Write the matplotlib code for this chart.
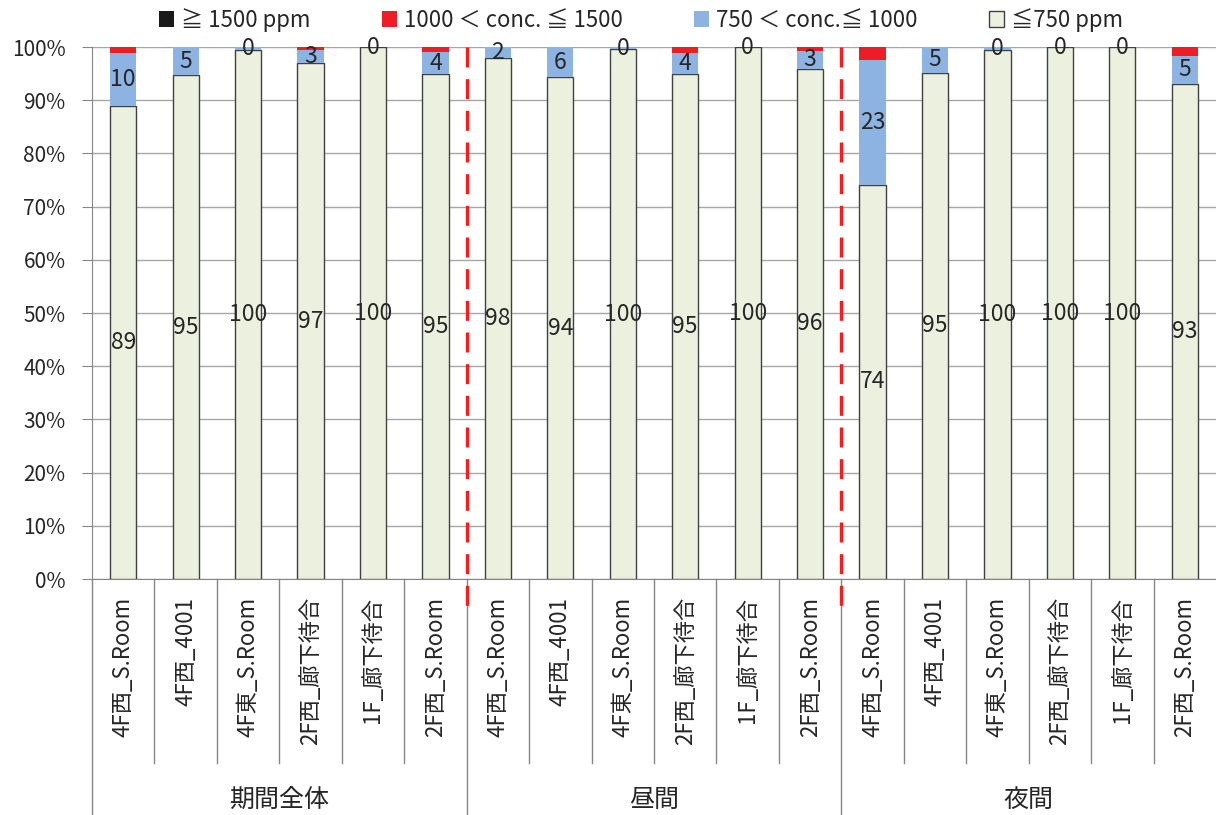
import matplotlib
matplotlib.use("Agg")
import matplotlib.pyplot as plt
import numpy as np

plt.rcParams['font.family'] = ['Noto Sans CJK JP', 'DejaVu Sans']

# categories
rooms = ['4F西_S.Room', '4F西_4001', '4F東_S.Room', '2F西_廊下待合', '1F_廊下待合', '2F西_S.Room']
groups = ['期間全体', '昼間', '夜間']
labels = rooms * 3

# share of time (%) per concentration band
over1500 = [0.0] * 18
c1000_1500 = [1.2, 0.0, 0.0, 0.5, 0.0, 1.0,
              0.0, 0.0, 0.0, 1.2, 0.0, 0.7,
              2.5, 0.0, 0.0, 0.0, 0.0, 1.6]
c750_1000 = [9.8, 5.3, 0.5, 2.6, 0.0, 4.1,
             2.1, 5.7, 0.4, 3.8, 0.0, 3.4,
             23.4, 4.8, 0.5, 0.0, 0.0, 5.4]
under750 = [89.0, 94.7, 99.5, 96.9, 100.0, 94.9,
            97.9, 94.3, 99.6, 95.0, 100.0, 95.9,
            74.1, 95.2, 99.5, 100.0, 100.0, 93.0]

legend_labels = ['≧ 1500 ppm', '1000 ＜ conc. ≦ 1500', '750 ＜ conc.≦ 1000', '≦750 ppm']

fig = plt.figure(figsize=(12.16, 8.15), dpi=100)
ax = fig.add_axes([92 / 1216, 1 - 579 / 815, 1 - 92 / 1216, 532 / 815])

x = np.arange(len(labels))
w = 0.42
g = np.array(under750)
b = np.array(c750_1000)
r = np.array(c1000_1500)
k = np.array(over1500)

bg = ax.bar(x, g, w, color='#ebf1de', edgecolor='#404040', linewidth=1.0, zorder=3)
bb = ax.bar(x, b, w, bottom=g, color='#8db3e2', zorder=3)
br = ax.bar(x, r, w, bottom=g + b, color='#ee1c25', zorder=3)
bk = ax.bar(x, k, w, bottom=g + b + r, color='#1a1a1a', zorder=3)

ax.bar_label(bg, labels=['%d' % round(v) for v in g], label_type='center', fontsize=16.5, color='#262626', zorder=5)
ax.bar_label(bb, labels=['%d' % round(v) for v in b], label_type='center', fontsize=16.5, color='#262626', zorder=5)

ax.set_xlim(-0.5, len(labels) - 0.5)
ax.set_ylim(0, 100)
ax.set_yticks(np.arange(0, 101, 10))
ax.set_yticklabels(['%d%%' % v for v in range(0, 101, 10)], fontsize=15, color='#262626')
ax.yaxis.grid(True, color='#a6a6a6', linewidth=1.0, zorder=0)
ax.set_axisbelow(True)
ax.tick_params(axis='y', length=7, color='#868686', pad=12)
ax.set_xticks([])
for s in ['top', 'right']:
    ax.spines[s].set_visible(False)
for s in ['left', 'bottom']:
    ax.spines[s].set_color('#868686')

# multi-level category axis
trans = ax.get_xaxis_transform()
for i, lab in enumerate(labels):
    ax.text(i, -0.034, lab, transform=trans, rotation=90, ha='center', va='top', fontsize=16, color='#262626')
for i in range(1, len(labels)):
    if i % len(rooms):
        ax.plot([i - 0.5, i - 0.5], [0, -0.346], transform=trans, color='#868686', lw=1, clip_on=False)
for j, grp in enumerate(groups):
    left = j * len(rooms) - 0.5
    ax.plot([left, left], [0, -0.45], transform=trans, color='#868686', lw=1, clip_on=False)
    ax.text(left + len(rooms) / 2, -0.415, grp, transform=trans, ha='center', va='center', fontsize=18, color='#262626')

# red dashed separators between periods
for j in range(1, len(groups)):
    xs = j * len(rooms) - 0.5
    ax.plot([xs, xs], [1.0, -0.062], transform=trans, color='#ff1a1a', lw=2.4,
            linestyle=(0, (6, 3.5)), clip_on=False, zorder=6)

fig.legend([bk, br, bb, bg], legend_labels, loc='center', bbox_to_anchor=(641 / 1216, 1 - 20 / 815),
           ncol=4, frameon=False, fontsize=16, handlelength=0.7, handleheight=0.7,
           handletextpad=0.3, columnspacing=3.2, labelcolor='#262626')

fig.savefig('out.png', dpi=100)
